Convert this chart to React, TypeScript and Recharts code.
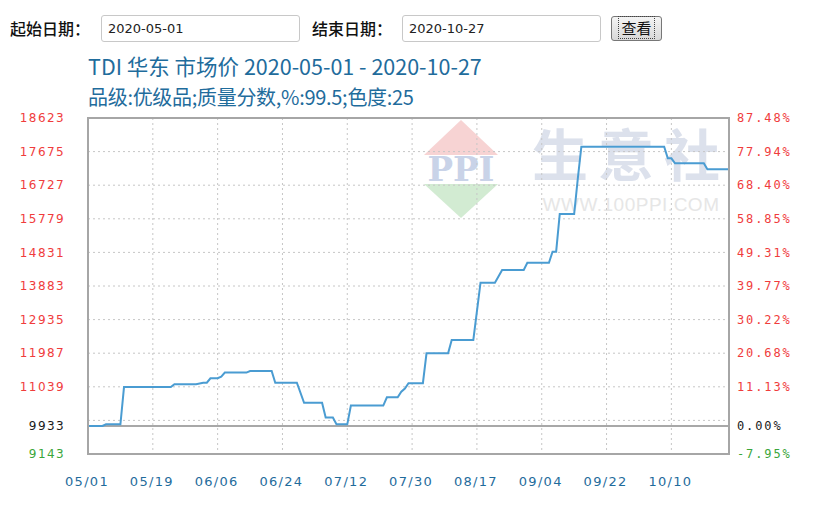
import React from "react";
import { LineChart, Line, XAxis, YAxis, CartesianGrid, ReferenceLine } from "recharts";

const START_DATE = "2020-05-01";
const END_DATE = "2020-10-27";
const PRODUCT_TITLE = "TDI 华东 市场价";
const GRADE_LINE = "品级:优级品;质量分数,%:99.5;色度:25";
const BASE_PRICE = 9933;

const Y_TICKS = [9143, 9933, 10091, 11039, 11987, 12935, 13883, 14831, 15779, 16727, 17675, 18623];
const LEFT_TICK_LABELS = ["9143", "9933", "", "11039", "11987", "12935", "13883", "14831", "15779", "16727", "17675", "18623"];
const RIGHT_TICK_LABELS = ["-7.95%", "0.00%", "", "11.13%", "20.68%", "30.22%", "39.77%", "49.31%", "58.85%", "68.40%", "77.94%", "87.48%"];
const X_TICK_LABELS = ["05/01", "05/19", "06/06", "06/24", "07/12", "07/30", "08/17", "09/04", "09/22", "10/10"];

const PRICE_DATES = [
  "05/01", "05/05", "05/06", "05/10", "05/11", "05/24", "05/25", "05/31", "06/02", "06/03",
  "06/04", "06/06", "06/07", "06/08", "06/14", "06/15", "06/21", "06/22", "06/28", "06/30",
  "07/05", "07/06", "07/08", "07/09", "07/12", "07/13", "07/22", "07/23", "07/26", "07/27",
  "07/28", "07/29", "08/02", "08/03", "08/09", "08/10", "08/16", "08/18", "08/22", "08/24",
  "08/30", "08/31", "09/06", "09/07", "09/08", "09/09", "09/13", "09/14", "09/15", "10/08",
  "10/09", "10/10", "10/11", "10/19", "10/20", "10/27",
];
const PRICE_VALUES = [
  9933, 9933, 9980, 9980, 11030, 11030, 11110, 11110, 11155, 11155,
  11280, 11280, 11325, 11440, 11440, 11485, 11485, 11155, 11155, 10590,
  10590, 10170, 10170, 9980, 9980, 10510, 10510, 10742, 10742, 10900,
  10990, 11140, 11140, 11985, 11985, 12360, 12360, 13976, 13976, 14334,
  14334, 14540, 14540, 14851, 14851, 15914, 15914, 16900, 17813, 17813,
  17486, 17486, 17345, 17345, 17176, 17176,
];

const toDay = (mmdd: string) => {
  const [m, d] = mmdd.split("/").map(Number);
  return Math.round((Date.UTC(2020, m - 1, d) - Date.UTC(2020, 4, 1)) / 86400000);
};

const data = PRICE_DATES.map((d, i) => ({ day: toDay(d), price: PRICE_VALUES[i] }));
const X_TICKS = X_TICK_LABELS.map(toDay);

const RED = "#f03c3c";
const GREEN = "#3aa63a";
const BLACK = "#1a1a1a";
const BLUE_TEXT = "#1f6c9c";

const tickColor = (v: number) => (v === BASE_PRICE ? BLACK : v === Y_TICKS[0] ? GREEN : RED);

const LeftTick = (props: any) => {
  const { x, y, payload } = props;
  const idx = Y_TICKS.indexOf(payload.value);
  const label = LEFT_TICK_LABELS[idx];
  if (!label) return null;
  return (
    <text x={x - 23} y={y} dy="0.35em" textAnchor="end" fill={tickColor(payload.value)}
      style={{ fontFamily: "DejaVu Sans", fontSize: 12, letterSpacing: 1.4 }}>
      {label}
    </text>
  );
};

const RightTick = (props: any) => {
  const { x, y, payload } = props;
  const idx = Y_TICKS.indexOf(payload.value);
  const label = RIGHT_TICK_LABELS[idx];
  if (!label) return null;
  return (
    <text x={x + 8} y={y} dy="0.35em" textAnchor="start" fill={tickColor(payload.value)}
      style={{ fontFamily: "DejaVu Sans Mono", fontSize: 12, letterSpacing: 1.9 }}>
      {label}
    </text>
  );
};

const XTick = (props: any) => {
  const { x, y, payload } = props;
  const idx = X_TICKS.indexOf(payload.value);
  return (
    <text x={x - 1} y={y + 27} dy="0.35em" textAnchor="middle" fill={BLUE_TEXT}
      style={{ fontFamily: "DejaVu Sans", fontSize: 13, letterSpacing: 1.3 }}>
      {X_TICK_LABELS[idx]}
    </text>
  );
};

const inputStyle: React.CSSProperties = {
  position: "absolute",
  height: 27,
  width: 199,
  boxSizing: "border-box",
  border: "1px solid #c8c8c8",
  borderRadius: 3,
  background: "#fff",
  fontFamily: "DejaVu Sans",
  fontSize: 13,
  color: "#222",
  lineHeight: "25px",
  paddingLeft: 6,
};

export default function App() {
  return (
    <div style={{ position: "absolute", left: 0, top: 0, width: 814, height: 509, background: "#fff", overflow: "hidden" }}>
      {/* form row */}
      <div style={{ position: "absolute", left: 10, top: 16, fontFamily: "Noto Sans CJK SC", fontSize: 16, fontWeight: 500, color: "#111", lineHeight: "24px" }}>起始日期：</div>
      <div style={{ ...inputStyle, left: 101, top: 15 }}>{START_DATE}</div>
      <div style={{ position: "absolute", left: 312, top: 16, fontFamily: "Noto Sans CJK SC", fontSize: 16, fontWeight: 500, color: "#111", lineHeight: "24px" }}>结束日期：</div>
      <div style={{ ...inputStyle, left: 402, top: 15 }}>{END_DATE}</div>
      <div style={{ position: "absolute", left: 611, top: 16, width: 51, height: 25, boxSizing: "border-box", border: "1px solid #777", borderRadius: 3, background: "linear-gradient(#f4f4f4, #d8d8d8)", fontFamily: "Noto Sans CJK SC", fontSize: 15, color: "#111", textAlign: "center", lineHeight: "22px" }}>
        <span style={{ outline: "1px dotted #444", padding: "0 2px" }}>查看</span>
      </div>

      {/* titles */}
      <div style={{ position: "absolute", left: 88, top: 51, fontFamily: "Noto Sans CJK SC", fontSize: 21.5, color: BLUE_TEXT, lineHeight: "30px", whiteSpace: "nowrap" }}>
        {`${PRODUCT_TITLE} ${START_DATE} - ${END_DATE}`}
      </div>
      <div style={{ position: "absolute", left: 88, top: 82, fontFamily: "Noto Sans CJK SC", fontSize: 20, color: BLUE_TEXT, lineHeight: "30px", whiteSpace: "nowrap", letterSpacing: -0.3 }}>
        {GRADE_LINE}
      </div>

      {/* watermark */}
      <svg style={{ position: "absolute", left: 0, top: 0 }} width={814} height={509}>
        <polygon points="461,120 498,155 424,155" fill="#f7d3d3" />
        <polygon points="424,184 498,184 461,218" fill="#d2ebd2" />
        <text x={461} y={181} textAnchor="middle" fill="#c9d3e8" style={{ fontFamily: "DejaVu Serif", fontWeight: 700, fontSize: 34 }}>PPI</text>
        <text x={631} y={176} textAnchor="middle" fill="#dce1ec" style={{ fontFamily: "Noto Sans CJK SC", fontWeight: 700, fontSize: 56, letterSpacing: 10 }}>生意社</text>
        <text x={631} y={211} textAnchor="middle" fill="#e6e6e6" style={{ fontFamily: "Liberation Sans", fontSize: 19, letterSpacing: 0.5 }}>WWW.100PPI.COM</text>
      </svg>

      <div style={{ position: "absolute", left: 0, top: 0 }}>
        <LineChart width={814} height={509} data={data} margin={{ top: 118, right: 5, bottom: 15, left: 8 }}>
          <CartesianGrid stroke="#c6c6c6" strokeDasharray="2 3" />
          <XAxis dataKey="day" type="number" domain={[0, 178]} allowDataOverflow ticks={X_TICKS} interval={0}
            axisLine={false} tickLine={false} tickSize={0} tickMargin={0} height={40} tick={<XTick />} />
          <YAxis type="number" domain={[9143, 18623]} ticks={Y_TICKS} interval={0} width={80}
            axisLine={false} tickLine={false} tickSize={0} tickMargin={0} tick={<LeftTick />} />
          <YAxis yAxisId="right" orientation="right" type="number" domain={[9143, 18623]} ticks={Y_TICKS} interval={0} width={80}
            axisLine={false} tickLine={false} tickSize={0} tickMargin={0} tick={<RightTick />} />
          <ReferenceLine yAxisId="right" y={BASE_PRICE} ifOverflow="extendDomain" stroke="#a8a8a8" strokeWidth={2} />
          <Line type="linear" dataKey="price" stroke="#4a9cd2" strokeWidth={2} dot={false} isAnimationActive={false} />
        </LineChart>
      </div>

      {/* plot frame */}
      <div style={{ position: "absolute", left: 87, top: 117, width: 643, height: 338, boxSizing: "border-box", border: "2px solid #a6a6a6", pointerEvents: "none" }} />
    </div>
  );
}
